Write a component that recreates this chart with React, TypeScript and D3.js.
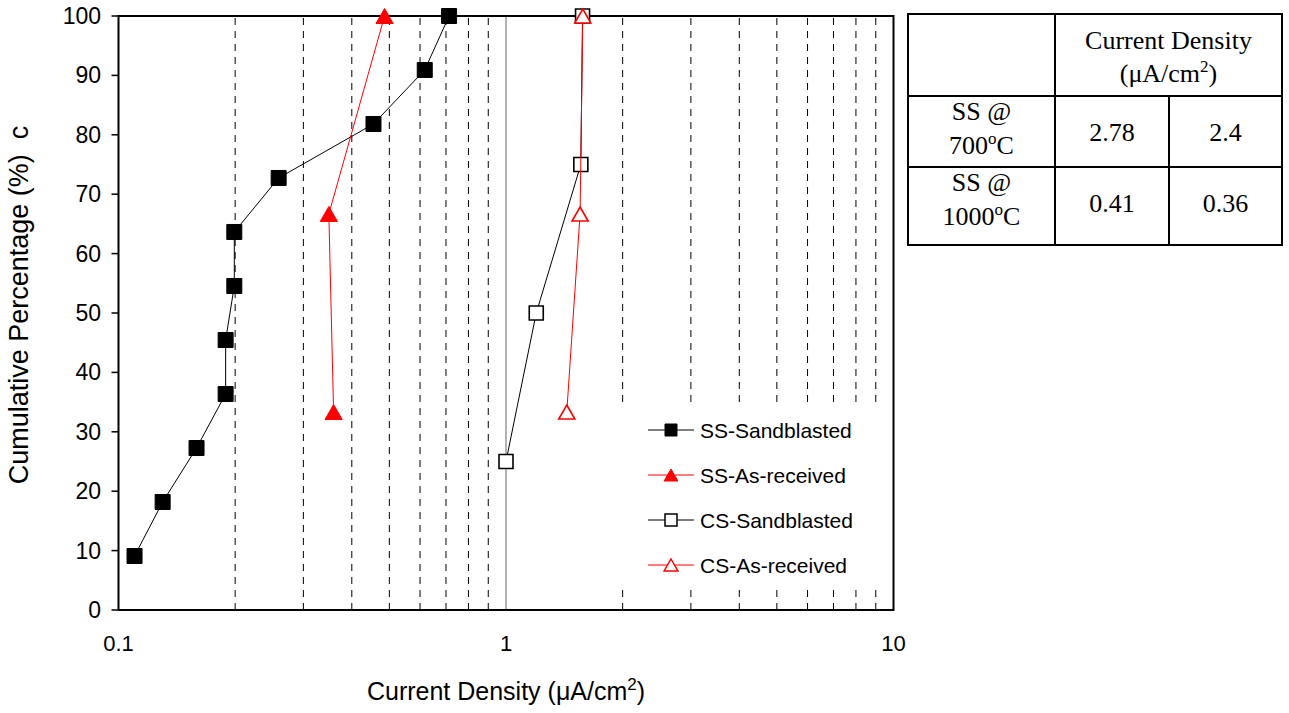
import React from "react";
import * as d3 from "d3";

const W = 1289;
const H = 713;

// cumulative percentage vs current density (uA/cm2)
const ssSandX = [0.11, 0.13, 0.159, 0.189, 0.189, 0.199, 0.199, 0.259, 0.455, 0.617, 0.713];
const ssSandY = [9.09, 18.18, 27.27, 36.36, 45.45, 54.55, 63.64, 72.73, 81.82, 90.91, 100];
const ssRecX = [0.359, 0.349, 0.486];
const ssRecY = [33.33, 66.67, 100];
const csSandX = [1.0, 1.197, 1.56, 1.576];
const csSandY = [25, 50, 75, 100];
const csRecX = [1.435, 1.553, 1.578];
const csRecY = [33.33, 66.67, 100];

const xTickValues = [0.1, 1, 10];
const xTickLabels = ["0.1", "1", "10"];
const xMinorGrid = [0.2, 0.3, 0.4, 0.5, 0.6, 0.7, 0.8, 0.9, 2, 3, 4, 5, 6, 7, 8, 9];
const yTickValues = [0, 10, 20, 30, 40, 50, 60, 70, 80, 90, 100];

// table on the right
const tableRowLabels = [["SS @", "700"], ["SS @", "1000"]];
const tableValues = [["2.78", "2.4"], ["0.41", "0.36"]];

const series = [
  { name: "SS-Sandblasted", xs: ssSandX, ys: ssSandY, color: "#000000", shape: "square", filled: true },
  { name: "SS-As-received", xs: ssRecX, ys: ssRecY, color: "#ff0000", shape: "triangle", filled: true },
  { name: "CS-Sandblasted", xs: csSandX, ys: csSandY, color: "#000000", shape: "square", filled: false },
  { name: "CS-As-received", xs: csRecX, ys: csRecY, color: "#ff0000", shape: "triangle", filled: false },
];

const sans = "'Liberation Sans', Arial, sans-serif";
const serif = "'Liberation Serif', 'Times New Roman', serif";

const markerPath = (shape: string, s: number) => {
  if (shape === "square") return `M${-s / 2},${-s / 2}h${s}v${s}h${-s}Z`;
  const w = s * 1.15;
  const h = s;
  return `M0,${-h / 2}L${w / 2},${h / 2}L${-w / 2},${h / 2}Z`;
};

const App = () => {
  const x = d3.scaleLog().domain([0.1, 10]).range([118.5, 893.5]);
  const y = d3.scaleLinear().domain([0, 100]).range([610, 16]);
  const line = d3.line<[number, number]>().x((d) => x(d[0])).y((d) => y(d[1]));

  const legendX = 648;
  const legendY = [430, 475, 520, 565];

  // table geometry
  const tL = 908, tR = 1282, tT = 14, tB = 245;
  const tC1 = 1055, tC2 = 1169, tR1 = 96, tR2 = 167;

  return (
    <svg width={W} height={H} style={{ position: "absolute", left: 0, top: 0, background: "#fff" }}>
      {/* dashed minor grid */}
      {xMinorGrid.map((v) => (
        <line key={v} x1={x(v)} x2={x(v)} y1={y(0)} y2={y(100)} stroke="#000" strokeWidth={1} strokeDasharray="7,6" />
      ))}
      <line x1={x(1)} x2={x(1)} y1={y(0)} y2={y(100)} stroke="#666" strokeWidth={1} />

      {/* legend background */}
      <rect x={612} y={407} width={278} height={180} fill="#fff" />

      {/* frame */}
      <rect x={x(0.1)} y={y(100)} width={x(10) - x(0.1)} height={y(0) - y(100)} fill="none" stroke="#000" strokeWidth={2} />

      {/* y ticks */}
      {yTickValues.map((v) => (
        <g key={v}>
          <line x1={x(0.1) - 7} x2={x(0.1)} y1={y(v)} y2={y(v)} stroke="#000" strokeWidth={1.5} />
          <text x={101} y={y(v) + 8} textAnchor="end" fontFamily={sans} fontSize={23}>{v}</text>
        </g>
      ))}
      {xTickValues.map((v, i) => (
        <text key={v} x={x(v)} y={651} textAnchor="middle" fontFamily={sans} fontSize={22}>{xTickLabels[i]}</text>
      ))}

      {/* axis titles */}
      <text x={506} y={700} textAnchor="middle" fontFamily={sans} fontSize={25}>
        Current Density (μA/cm<tspan dy={-10} fontSize={17}>2</tspan><tspan dy={10}>)</tspan>
      </text>
      <text transform="translate(28,305) rotate(-90)" textAnchor="middle" fontFamily={sans} fontSize={27} style={{ whiteSpace: "pre" }}>
        {"Cumulative Percentage (%)  c"}
      </text>

      {/* series */}
      {series.map((s) => {
        const pts = s.xs.map((v, i) => [v, s.ys[i]] as [number, number]);
        return (
          <g key={s.name}>
            <path d={line(pts) || ""} fill="none" stroke={s.color} strokeWidth={1} />
            {pts.map((p, i) => (
              <path
                key={i}
                transform={`translate(${x(p[0])},${y(p[1])})`}
                d={markerPath(s.shape, s.filled ? 15 : 14)}
                fill={s.filled ? s.color : "#fff"}
                stroke={s.color}
                strokeWidth={s.filled ? 1 : 1.6}
              />
            ))}
          </g>
        );
      })}

      {/* legend */}
      {series.map((s, i) => (
        <g key={s.name} transform={`translate(${legendX},${legendY[i]})`}>
          <line x1={0} x2={46} y1={0} y2={0} stroke={s.color} strokeWidth={1} />
          <path
            transform="translate(23,0)"
            d={markerPath(s.shape, 12)}
            fill={s.filled ? s.color : "#fff"}
            stroke={s.color}
            strokeWidth={s.filled ? 1 : 1.5}
          />
          <text x={52} y={7.5} fontFamily={sans} fontSize={21}>{s.name}</text>
        </g>
      ))}

      {/* table */}
      <g fontFamily={serif} fontSize={26} textAnchor="middle">
        <rect x={tL} y={tT} width={tR - tL} height={tB - tT} fill="none" stroke="#000" strokeWidth={2} />
        <line x1={tL} x2={tR} y1={tR1} y2={tR1} stroke="#000" strokeWidth={2} />
        <line x1={tL} x2={tR} y1={tR2} y2={tR2} stroke="#000" strokeWidth={2} />
        <line x1={tC1} x2={tC1} y1={tT} y2={tB} stroke="#000" strokeWidth={2} />
        <line x1={tC2} x2={tC2} y1={tR1} y2={tB} stroke="#000" strokeWidth={2} />
        <text x={(tC1 + tR) / 2} y={49}>Current Density</text>
        <text x={(tC1 + tR) / 2} y={82}>
          (μA/cm<tspan dy={-10} fontSize={17}>2</tspan><tspan dy={10}>)</tspan>
        </text>
        {tableRowLabels.map((r, i) => {
          const top = i === 0 ? tR1 : tR2;
          return (
            <g key={i}>
              <text x={(tL + tC1) / 2} y={top + 24}>{r[0]}</text>
              <text x={(tL + tC1) / 2} y={top + 58}>
                {r[1]}<tspan dy={-10} fontSize={17}>o</tspan><tspan dy={10}>C</tspan>
              </text>
              {tableValues[i].map((v, j) => (
                <text key={j} x={j === 0 ? (tC1 + tC2) / 2 : (tC2 + tR) / 2} y={top + 45}>{v}</text>
              ))}
            </g>
          );
        })}
      </g>
    </svg>
  );
};

export default App;
